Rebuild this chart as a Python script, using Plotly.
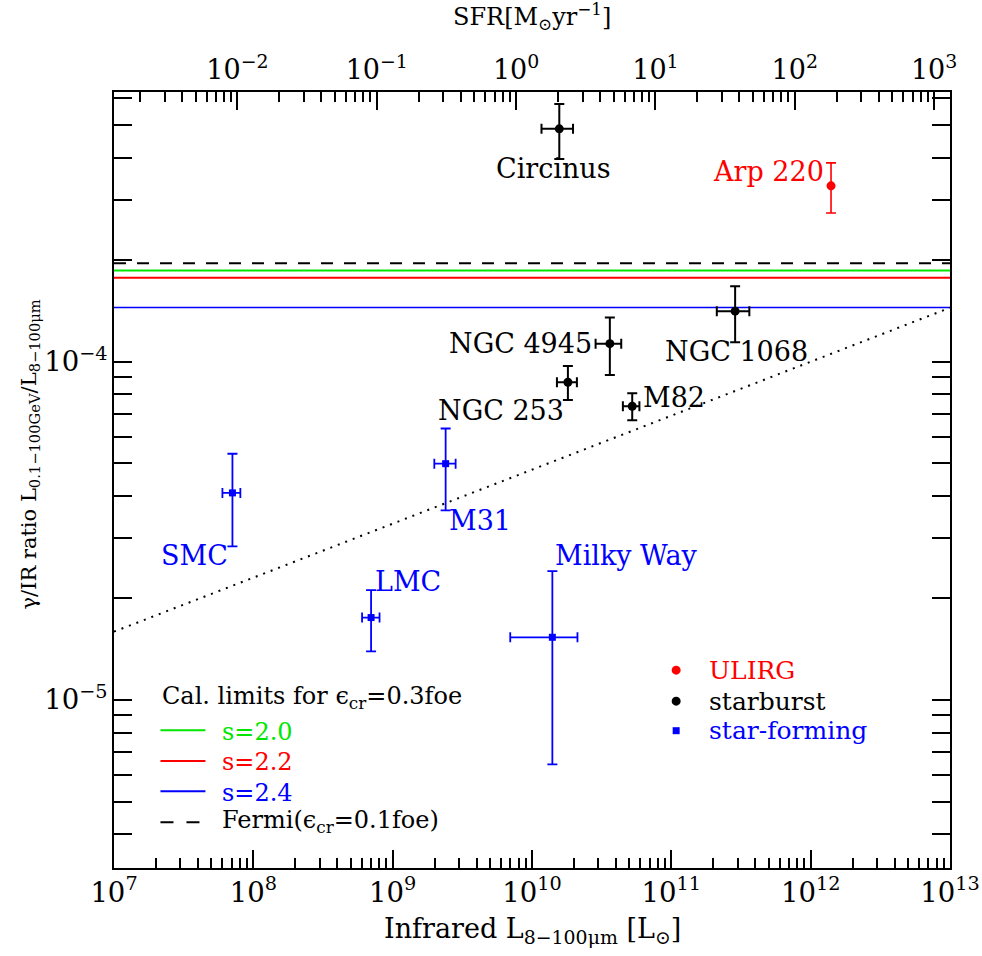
import numpy as np
import plotly.graph_objects as go

# Gamma-ray to infrared luminosity ratio of nearby galaxies
names = ["Arp 220", "Circinus", "NGC 4945", "NGC 1068", "NGC 253", "M82",
         "SMC", "LMC", "M31", "Milky Way"]
groups = ["ULIRG", "starburst", "starburst", "starburst", "starburst", "starburst",
          "star-forming", "star-forming", "star-forming", "star-forming"]

# Infrared luminosity L_8-100um [L_sun] with lower / upper bounds (None = no error)
L_ir = [1.40e12, 1.57e10, 3.62e10, 2.87e11, 1.81e10, 5.24e10, 7.08e7, 7.00e8, 2.40e9, 1.40e10]
L_ir_lo = [None, 1.17e10, 2.86e10, 2.12e11, 1.51e10, 4.49e10, 6.00e7, 6.03e8, 1.99e9, 6.98e9]
L_ir_hi = [None, 1.97e10, 4.37e10, 3.63e11, 2.10e10, 5.90e10, 8.07e7, 8.05e8, 2.83e9, 2.12e10]

# gamma/IR ratio L_0.1-100GeV / L_8-100um with lower / upper bounds
ratio = [3.31e-4, 4.88e-4, 1.13e-4, 1.41e-4, 8.69e-5, 7.38e-5, 4.09e-5, 1.75e-5, 4.99e-5, 1.53e-5]
ratio_lo = [2.75e-4, 3.97e-4, 9.12e-5, 1.14e-4, 7.70e-5, 6.71e-5, 2.84e-5, 1.39e-5, 3.63e-5, 6.44e-6]
ratio_hi = [3.87e-4, 5.78e-4, 1.35e-4, 1.67e-4, 9.71e-5, 8.06e-5, 5.34e-5, 2.11e-5, 6.34e-5, 2.40e-5]

# Calorimetric limits for eps_cr = 0.3 foe and the Fermi value for eps_cr = 0.1 foe
cal_labels = ["s=2.0", "s=2.2", "s=2.4"]
cal_limits = [1.86e-4, 1.77e-4, 1.445e-4]
fermi_limit = 1.955e-4

# Dotted trend line end points
trend_L = [1e7, 1e13]
trend_ratio = [1.59e-5, 1.443e-4]

# SFR = 1.3e-10 * L_IR
SFR_PER_LIR = 1.3e-10
L_range = [1e7, 1e13]
y_range = [3.18e-6, 6.27e-4]
sfr_ticks = [-2, -1, 0, 1, 2, 3]

FONT = "DejaVu Serif"
group_style = {
    "ULIRG": dict(color="#ff0000", symbol="circle", size=9, width=1.6),
    "starburst": dict(color="#000000", symbol="circle", size=9, width=2.0),
    "star-forming": dict(color="#0000ff", symbol="square", size=7, width=1.8),
}
cal_colors = ["#00e600", "#ff0000", "#0000ff"]

# Label placement relative to each point (anchor, x shift px, y shift px)
label_pos = {
    "Arp 220": ("right", -5, 14),
    "Circinus": ("center", -6, -40),
    "NGC 4945": ("right", -16, 0),
    "NGC 1068": ("center", 1, -40),
    "NGC 253": ("right", -2, -28),
    "M82": ("left", 9, 9),
    "SMC": ("right", -2, -63),
    "LMC": ("left", 2, 36),
    "M31": ("left", 1, -57),
    "Milky Way": ("left", 1, 82),
}

fig = go.Figure()

# horizontal calorimetric limits
xs = np.array(L_range)
fig.add_trace(go.Scatter(x=xs, y=[fermi_limit] * 2, mode="lines",
                         line=dict(color="black", width=2, dash="12px,11px"),
                         showlegend=False, hoverinfo="skip"))
for lab, val, col in zip(cal_labels, cal_limits, cal_colors):
    fig.add_trace(go.Scatter(x=xs, y=[val] * 2, mode="lines",
                             line=dict(color=col, width=2 if col != "#0000ff" else 1.6),
                             name=lab, showlegend=False, hoverinfo="skip"))

# dotted trend
fig.add_trace(go.Scatter(x=trend_L, y=trend_ratio, mode="lines",
                         line=dict(color="black", width=2, dash="2px,6px"),
                         showlegend=False, hoverinfo="skip"))

# galaxies, one trace each so error bar colours follow the class
for i, nm in enumerate(names):
    st = group_style[groups[i]]
    ex = None
    if L_ir_lo[i] is not None:
        ex = dict(type="data", symmetric=False,
                  array=[L_ir_hi[i] - L_ir[i]], arrayminus=[L_ir[i] - L_ir_lo[i]],
                  color=st["color"], thickness=st["width"], width=5)
    ey = dict(type="data", symmetric=False,
              array=[ratio_hi[i] - ratio[i]], arrayminus=[ratio[i] - ratio_lo[i]],
              color=st["color"], thickness=st["width"], width=5)
    fig.add_trace(go.Scatter(
        x=[L_ir[i]], y=[ratio[i]], mode="markers", name=nm,
        marker=dict(color=st["color"], symbol=st["symbol"], size=st["size"]),
        error_x=ex, error_y=ey, showlegend=False))
    anc, dx, dy = label_pos[nm]
    fig.add_annotation(x=np.log10(L_ir[i]), y=np.log10(ratio[i]), xref="x", yref="y",
                       text=nm, showarrow=False, xanchor=anc, yanchor="middle",
                       xshift=dx, yshift=dy,
                       font=dict(family=FONT, size=27, color=st["color"]))

# SFR axis companion trace
fig.add_trace(go.Scatter(x=[v * SFR_PER_LIR for v in L_ir], y=ratio, xaxis="x2",
                         mode="markers", marker=dict(opacity=0), showlegend=False,
                         hoverinfo="skip"))

# plot area in pixels
W, H = 982, 956
ML, MR, MT, MB = 113.5, 32, 92.3, 88.3
PW, PH = W - ML - MR, H - MT - MB


def px(x):
    return (x - ML) / PW


def py(y):
    return (H - MB - y) / PH


# left legend: calorimetric limits
LEG = 24
fig.add_annotation(x=px(160), y=py(697), xref="paper", yref="paper",
                   text="Cal. limits for ϵ<sub>cr</sub>=0.3foe", showarrow=False,
                   xanchor="left", yanchor="middle",
                   font=dict(family=FONT, size=LEG, color="black"))
leg_rows = [730, 760.7, 791]
for lab, col, yy in zip(cal_labels, cal_colors, leg_rows):
    fig.add_shape(type="line", xref="paper", yref="paper", x0=px(160), x1=px(205),
                  y0=py(yy), y1=py(yy), line=dict(color=col, width=2))
    fig.add_annotation(x=px(220), y=py(yy + 1.5), xref="paper", yref="paper", text=lab,
                       showarrow=False, xanchor="left", yanchor="middle",
                       font=dict(family=FONT, size=LEG, color=col))
fig.add_shape(type="line", xref="paper", yref="paper", x0=px(160), x1=px(199),
              y0=py(822), y1=py(822), line=dict(color="black", width=2, dash="13px,13px"))
fig.add_annotation(x=px(220), y=py(821), xref="paper", yref="paper",
                   text="Fermi(ϵ<sub>cr</sub>=0.1foe)", showarrow=False,
                   xanchor="left", yanchor="middle",
                   font=dict(family=FONT, size=LEG, color="black"))

# right legend: galaxy classes
for g, yy in zip(["ULIRG", "starburst", "star-forming"], [670, 701, 730.5]):
    st = group_style[g]
    r = 4.5 if st["symbol"] == "circle" else 3.5
    fig.add_shape(type="circle" if st["symbol"] == "circle" else "rect",
                  xref="paper", yref="paper", xsizemode="pixel", ysizemode="pixel",
                  xanchor=px(676), yanchor=py(yy), x0=-r, x1=r, y0=-r, y1=r,
                  fillcolor=st["color"], line=dict(width=0))
    fig.add_annotation(x=px(707), y=py(yy), xref="paper", yref="paper", text=g,
                       showarrow=False, xanchor="left", yanchor="middle",
                       font=dict(family=FONT, size=25, color=st["color"]))

# axis titles
fig.add_annotation(x=0.5, y=py(930), xref="paper", yref="paper",
                   text="Infrared L<sub>8−100μm</sub> [L<sub>⊙</sub>]", showarrow=False,
                   xanchor="center", yanchor="middle",
                   font=dict(family=FONT, size=27, color="black"))
fig.add_annotation(x=0.5, y=py(17), xref="paper", yref="paper",
                   text="SFR[M<sub>⊙</sub>yr<sup>−1</sup>]", showarrow=False,
                   xanchor="center", yanchor="middle",
                   font=dict(family=FONT, size=24, color="black"))
fig.add_annotation(x=px(29), y=py(455), xref="paper", yref="paper",
                   text="γ/IR ratio L<sub>0.1−100GeV</sub>/L<sub>8−100μm</sub>",
                   showarrow=False, textangle=-90, xanchor="center", yanchor="middle",
                   font=dict(family=FONT, size=21, color="black"))

tickfont = dict(family=FONT, size=22, color="black")
minor = dict(ticks="inside", ticklen=10, tickwidth=1.5, tickcolor="black",
             showgrid=False, dtick="D1")
common = dict(type="log", ticks="inside", ticklen=18, tickwidth=1.5, tickcolor="black",
              showline=True, linewidth=2, linecolor="black", showgrid=False,
              zeroline=False, exponentformat="power",
              minor=minor, automargin=False)

fig.update_layout(
    width=W, height=H,
    margin=dict(l=ML, r=MR, t=MT, b=MB, autoexpand=False),
    paper_bgcolor="white", plot_bgcolor="white",
    showlegend=False,
    xaxis=dict(range=[np.log10(L_range[0]), np.log10(L_range[1])], mirror=False,
               dtick=1, tickfont=tickfont, **common),
    xaxis2=dict(range=[np.log10(L_range[0] * SFR_PER_LIR), np.log10(L_range[1] * SFR_PER_LIR)],
                overlaying="x", side="top", anchor="y",
                tickvals=[10.0 ** k for k in sfr_ticks],
                ticktext=[f"10<sup>{k}</sup>".replace("-", "−") for k in sfr_ticks],
                tickfont=dict(family=FONT, size=27, color="black"),
                **common),
    yaxis=dict(range=[np.log10(y_range[0]), np.log10(y_range[1])], mirror="allticks",
               dtick=1, tickfont=tickfont, **common),
)

fig.write_html("out.html")
